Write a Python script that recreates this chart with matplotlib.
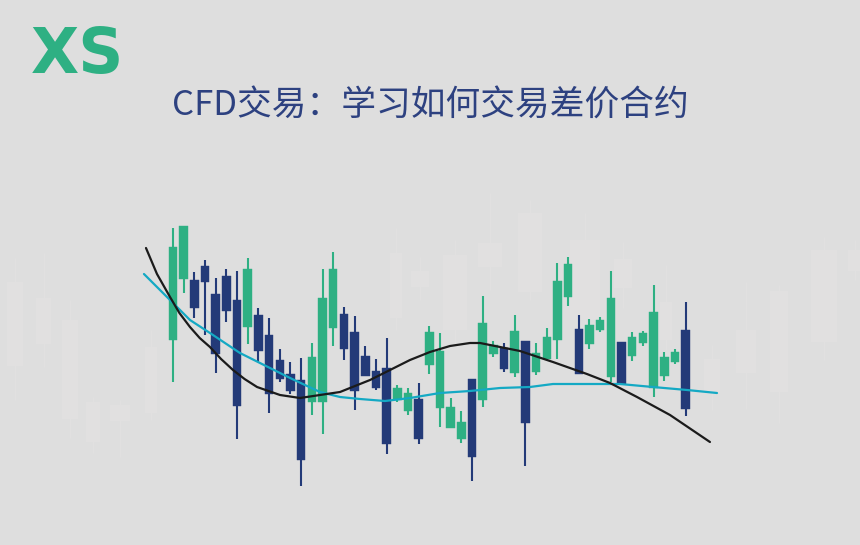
import matplotlib
matplotlib.use("Agg")
import matplotlib.pyplot as plt
import numpy as np

# ---------------- data ----------------
opens  = [160, 221, 220, 234, 206, 224, 200, 173, 185, 165, 140, 126, 120, 98, 98, 172,
          186, 168, 144, 129, 132, 100, 89, 101, 135, 92, 72, 61, 121, 100, 146, 152,
          127, 159, 128, 141, 160, 203, 171, 156, 170, 123, 158, 144, 157, 112, 124, 138, 170]
closes = [253, 274, 192, 218, 146, 189, 94, 231, 149, 106, 121, 109, 40, 143, 202, 231,
          151, 109, 124, 112, 56, 112, 107, 61, 168, 149, 93, 78, 43, 177, 155, 131,
          169, 77, 147, 163, 219, 236, 126, 175, 180, 202, 116, 163, 167, 188, 143, 148, 91]
highs  = [272, 274, 228, 240, 222, 231, 229, 242, 192, 182, 151, 138, 142, 157, 231, 248,
          193, 184, 154, 141, 162, 115, 112, 117, 174, 167, 102, 89, 121, 204, 159, 157,
          185, 159, 157, 172, 237, 243, 185, 181, 183, 229, 158, 168, 169, 215, 148, 151, 198]
lows   = [118, 207, 182, 165, 127, 178, 61, 156, 138, 87, 118, 106, 14, 85, 66, 154,
          140, 90, 124, 110, 46, 98, 85, 56, 126, 73, 72, 57, 19, 93, 143, 128,
          123, 34, 125, 141, 141, 194, 126, 151, 168, 118, 116, 139, 154, 103, 119, 136, 84]

# smoothed trend line (black)
trend_x = [-2.53, -1.5, -0.28, 0.6, 1.59, 2.5, 3.46, 4.5, 5.62, 6.7, 7.87, 10.02, 11.89, 13.76,
           15.64, 16.57, 18.45, 20.32, 22.19, 24.06, 25.94, 27.81, 28.75, 30.62, 32.49,
           35.58, 38.76, 40.92, 43.45, 46.54, 50.28]
trend_y = [252, 226, 203, 187, 173, 162, 153, 141, 130, 121, 113, 105, 102, 105,
           108, 112, 120, 130, 140, 148, 154, 157, 157, 153, 149,
           138, 126, 117, 103, 85, 58]

# moving average (cyan)
ma_x = [-2.72, -0.28, 1.59, 3.46, 6.27, 9.08, 10.96, 13.76, 15.64, 17.51, 19.85, 22.19,
        25.0, 27.81, 30.62, 33.43, 35.58, 38.76, 41.85, 44.94, 48.13, 50.94]
ma_y = [226, 200, 180, 167, 147, 132, 122, 108, 103, 101, 99, 102,
        107, 109, 112, 113, 116, 116, 116, 113, 110, 107]

# faint background candles: position, body top/bottom, wick top/bottom, body width
ghost_x     = [-14.8, -12.1, -9.6, -7.5, -4.96, -2.06, 50.47, 53.65, 56.74, 60.96, 63.86,
               20.88, 23.13, 26.4, 29.68, 33.43, 38.58, 42.14, 46.16]
ghost_top   = [218, 202, 180, 98, 95, 153, 141, 170, 209, 250, 250,
               247, 229, 245, 257, 287, 260, 241, 198]
ghost_bot   = [134, 156, 81, 58, 79, 87, 107, 127, 108, 158, 229,
               182, 213, 170, 233, 208, 180, 212, 160]
ghost_hi    = [242, 247, 200, 103, 100, 170, 155, 218, 215, 263, 260,
               272, 243, 260, 307, 300, 287, 258, 235]
ghost_lo    = [100, 133, 62, 47, 43, 80, 90, 91, 77, 140, 220,
               170, 200, 155, 210, 200, 165, 192, 150]
ghost_w     = [1.5, 1.4, 1.5, 1.3, 1.9, 1.1, 1.5, 1.9, 1.7, 2.5, 1.3,
               1.1, 1.7, 2.2, 2.3, 2.2, 2.8, 1.6, 1.1]

title = "CFD交易：学习如何交易差价合约"
logo = "XS"

# ---------------- style ----------------
BG = "#dedede"
GREEN = "#2eb083"
NAVY = "#233a78"
GHOST = "#e1e0e0"

fig = plt.figure(figsize=(8.6, 5.45), dpi=100, facecolor=BG)
ax = fig.add_axes([0, 0, 1, 1])
ax.set_facecolor(BG)
ax.set_xlim(-16.2, 64.33)
ax.set_ylim(-45, 500)
ax.axis("off")

# ghost candles
gx = np.array(ghost_x)
ax.vlines(gx, ghost_lo, ghost_hi, color=GHOST, lw=1.0, zorder=1)
ax.bar(gx, np.array(ghost_top) - np.array(ghost_bot), bottom=ghost_bot,
       width=ghost_w, color=GHOST, zorder=1)

# main candles
o = np.array(opens); c = np.array(closes)
h = np.array(highs); l = np.array(lows)
idx = np.arange(len(o))
up = c >= o
colors = np.where(up, GREEN, NAVY)
ax.vlines(idx, l, h, colors=colors, lw=1.5, zorder=3)
ax.bar(idx, np.abs(c - o), bottom=np.minimum(o, c), width=0.8,
       color=colors, edgecolor=colors, linewidth=0.3, zorder=4)

# lines
ax.plot(ma_x, ma_y, color="#14a9c4", lw=1.6, zorder=5, solid_capstyle="round",
        solid_joinstyle="round")
ax.plot(trend_x, trend_y, color="#1b1b1b", lw=1.6, zorder=6, solid_capstyle="round",
        solid_joinstyle="round")

# title and logo
fig.text(0.5, 1 - 106 / 545, title, ha="center", va="center", fontsize=25,
         color="#2d4180", family=["Noto Sans CJK SC", "DejaVu Sans"])
fig.text(31 / 860, 1 - 50 / 545, logo, ha="left", va="center_baseline", fontsize=45,
         color=GREEN, family="DejaVu Sans", fontweight="bold")

fig.savefig("out.png", dpi=100, facecolor=BG)
